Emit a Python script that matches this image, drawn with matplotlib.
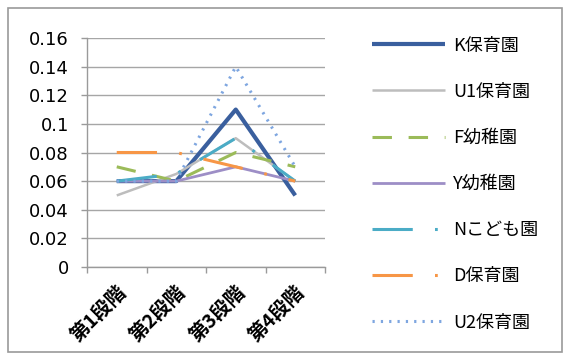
import matplotlib
matplotlib.use("Agg")
import matplotlib.pyplot as plt
from matplotlib.patches import Rectangle
from matplotlib.transforms import ScaledTranslation

plt.rcParams['font.family'] = ['Noto Sans CJK JP', 'DejaVu Sans']
plt.rcParams['lines.scale_dashes'] = False

stages = ['第1段階', '第2段階', '第3段階', '第4段階']

k_hoikuen = [0.06, 0.06, 0.11, 0.05]
u1_hoikuen = [0.05, 0.065, 0.09, 0.06]
f_youchien = [0.07, 0.06, 0.08, 0.07]
y_youchien = [0.06, 0.06, 0.07, 0.06]
n_kodomoen = [0.06, 0.065, 0.09, 0.06]
d_hoikuen = [0.08, 0.08, 0.07, 0.06]
u2_hoikuen = [0.06, 0.06, 0.14, 0.07]

series_names = ['K保育園', 'U1保育園', 'F幼稚園', 'Y幼稚園', 'Nこども園', 'D保育園', 'U2保育園']

yticks = [0, 0.02, 0.04, 0.06, 0.08, 0.1, 0.12, 0.14, 0.16]
ytick_labels = ['0', '0.02', '0.04', '0.06', '0.08', '0.1', '0.12', '0.14', '0.16']

styles = [
    dict(color='#3A5F9E', lw=3.0, ls='-'),
    dict(color='#BDBDBD', lw=1.8, ls='-'),
    dict(color='#9BBB59', lw=2.2, ls=(0, (14, 12))),
    dict(color='#9D8EC6', lw=2.0, ls='-'),
    dict(color='#4BACC6', lw=2.2, ls=(0, (29, 16, 2, 16))),
    dict(color='#F79646', lw=2.2, ls=(0, (29, 16, 2, 16))),
    dict(color='#7EA6E0', lw=2.2, ls=(0, (1.6, 4.4))),
]

fig = plt.figure(figsize=(5.67, 3.58), dpi=100)
fig.patch.set_facecolor('white')
fig.add_artist(Rectangle((8 / 567, 1 - 352 / 358), 554 / 567, 344 / 358,
                         transform=fig.transFigure, fill=False,
                         edgecolor='#9A9A9A', lw=1.2))

ax = fig.add_axes([87 / 567, 1 - 267 / 358, 238 / 567, 229 / 358])

all_series = [k_hoikuen, u1_hoikuen, f_youchien, y_youchien,
              n_kodomoen, d_hoikuen, u2_hoikuen]
x = list(range(len(stages)))
for name, vals, st in zip(series_names, all_series, styles):
    ax.plot(x, vals, label=name, solid_capstyle='butt', dash_capstyle='butt', **st)

ax.set_ylim(0, 0.16)
ax.set_xlim(-0.5, len(stages) - 0.5)
ax.set_yticks(yticks)
ax.set_yticklabels(ytick_labels, family='DejaVu Sans')
ax.set_xticks(x)
ax.set_xticklabels(stages, rotation=45, ha='right', rotation_mode='anchor',
                   fontweight='bold', fontsize=14)
shift = ScaledTranslation(3 / 72, 0, fig.dpi_scale_trans)
for lbl in ax.get_xticklabels():
    lbl.set_transform(lbl.get_transform() + shift)
ax.set_xticks([i - 0.5 for i in range(len(stages) + 1)], minor=True)
ax.tick_params(axis='x', which='major', length=0, pad=11)
ax.tick_params(axis='x', which='minor', length=4, color='#9A9A9A', width=1)
ax.tick_params(axis='y', length=4, color='#9A9A9A', width=1, pad=9, labelsize=13)

ax.grid(axis='y', color='#A6A6A6', lw=1)
ax.set_axisbelow(True)
for side in ['top', 'right']:
    ax.spines[side].set_visible(False)
for side in ['left', 'bottom']:
    ax.spines[side].set_color('#9A9A9A')
    ax.spines[side].set_linewidth(1)

fig.legend(loc='upper left', bbox_to_anchor=(372 / 567, 1 - 36.5 / 358),
           frameon=False, fontsize=13, handlelength=4.04, handletextpad=0.45,
           labelspacing=1.56, borderpad=0, borderaxespad=0)

fig.savefig('out.png', dpi=100)
